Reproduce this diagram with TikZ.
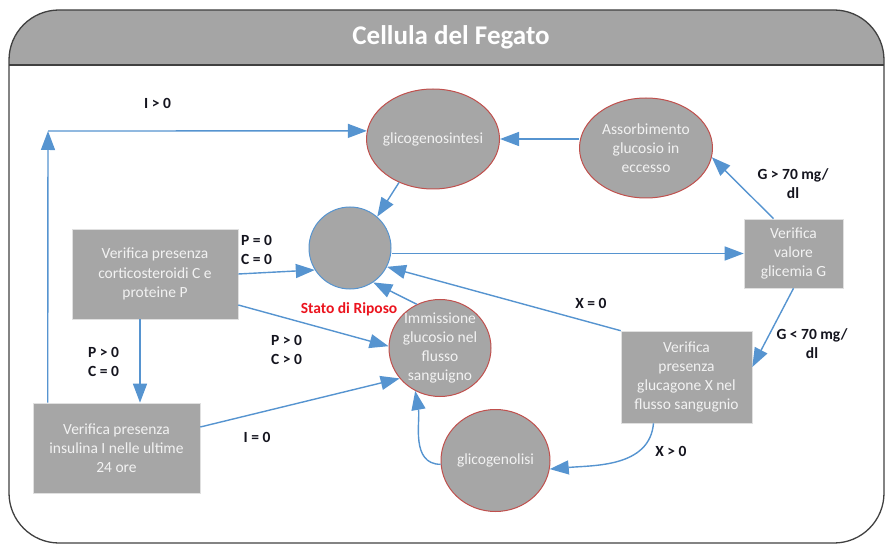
\documentclass[tikz,border=0pt]{standalone}
\usepackage{fontspec}
\setmainfont{Carlito}
\usetikzlibrary{arrows.meta,shapes.geometric}
\definecolor{boxgray}{RGB}{166,166,166}
\definecolor{headgray}{RGB}{165,165,165}
\definecolor{redb}{RGB}{192,80,77}
\definecolor{lineblue}{RGB}{86,148,208}
\definecolor{txt}{RGB}{242,242,242}
\definecolor{framec}{RGB}{64,64,64}
\definecolor{lbl}{RGB}{20,20,30}
\definecolor{redtxt}{RGB}{235,20,30}
\begin{document}
\begin{tikzpicture}[x=1pt,y=-1pt,
  box/.style={draw=black!12, line width=0.6pt, fill=boxgray, text=txt,
    font=\fontsize{15.5}{19.3}\selectfont, align=center, inner sep=0pt},
  blob/.style={ellipse, draw=redb, line width=1pt, fill=boxgray, inner sep=0pt},
  intext/.style={text=txt, font=\fontsize{15.5}{19.3}\selectfont, align=center, inner sep=0pt},
  lab/.style={text=lbl, font=\fontsize{15.5}{19}\selectfont\bfseries, inner sep=0pt},
  arr/.style={draw=lineblue, line width=1.4pt, -{Triangle[length=19pt,width=14pt]}}
]
\useasboundingbox (0,0) rectangle (886,545);
% frame
\begin{scope}
\clip[rounded corners=50pt] (9,10) rectangle (884,543);
\fill[headgray] (0,0) rectangle (886,65);
\end{scope}
\draw[framec, line width=1.3pt, rounded corners=50pt] (9,10) rectangle (884,543);
\draw[framec, line width=1.3pt] (9,65) -- (884,65);
\node[text=white, font=\fontsize{27}{30}\selectfont\bfseries] (T) at (451,37) {Cellula del Fegato};

% nodes
\node[box, minimum width=166pt, minimum height=90pt] (C) at (155,274) {Verifica presenza\\corticosteroidi C e\\proteine P};
\node[box, minimum width=167pt, minimum height=90pt] (N) at (116.5,448) {Verifica presenza\\insulina I nelle ultime\\24 ore};
\node[box, minimum width=99pt, minimum height=69pt] (V) at (793.5,253.5) {Verifica\\valore\\glicemia G};
\node[box, minimum width=131pt, minimum height=92pt] (X) at (686.5,377) {Verifica\\presenza\\glucagone X nel\\flusso sangugnio};

\node[blob, minimum width=133pt, minimum height=100pt, label={[intext]center:glicogenosintesi}] (G1) at (433,139) {};
\node[blob, minimum width=133pt, minimum height=100pt, label={[intext]center:{Assorbimento\\glucosio in\\eccesso}}] (A) at (646,148) {};
\node[blob, minimum width=102pt, minimum height=97pt, label={[intext]center:{Immissione\\glucosio nel\\flusso\\sanguigno}}] (I) at (440,348) {};
\node[blob, minimum width=109pt, minimum height=102pt, label={[intext]center:glicogenolisi}] (L) at (495.5,460.5) {};
\node[circle, draw=lineblue, fill=boxgray, line width=1pt, minimum size=82pt, inner sep=0pt] (S) at (350,248) {};
\node[text=redtxt, font=\fontsize{15.5}{19}\selectfont\bfseries, inner sep=0pt] (SL) at (349,309) {Stato di Riposo};

% connectors
\draw[arr] (G1.232) -- (S.49);
\draw[arr] (G1.east -| A.west) -- (G1.east);
\draw[arr] (V.west -| S.east) -- (V.west);
\draw[arr] ([xshift=-20pt]V.north) -- (A.-8);
\draw[arr] (V.south) -- ([yshift=10pt]X.east);
\draw[arr] (X.north west) -- (S.-27);
\draw[arr] ([xshift=-33pt]X.south) to[out=-95,in=5] (L.-9);
\draw[arr] (L.184) to[out=180,in=-80] (I.240);
\draw[arr] (I.118) -- (S.-56);
\draw[arr] (C.east) -- (S.212);
\draw[arr] ([yshift=-31pt]C.east) -- (I.178);
\draw[arr] ([xshift=-15pt]C.south) -- ([xshift=-15pt]C.south |- N.north);
\draw[arr] ([yshift=21pt]N.east) -- (I.217);
\coordinate (k) at (48,131);
\draw[arr] ([xshift=15pt]N.north west) -- (k);
\draw[arr] (k) -- (G1.173);

% labels
\node[lab] (l1) at (157.5,103) {I > 0};
\node[lab, anchor=west, align=left] (l2) at (241,249.5) {P = 0\\C = 0};
\node[lab, anchor=west, align=left] (l3) at (271,350) {P > 0\\C > 0};
\node[lab, anchor=west, align=left] (l4) at (88,362) {P > 0\\C = 0};
\node[lab] (l5) at (257,437) {I = 0};
\node[lab] (l6) at (591,303) {X = 0};
\node[lab] (l7) at (671,451) {X > 0};
\node[lab, align=center] (l8) at (793,184) {G > 70 mg/\\dl};
\node[lab, align=center] (l9) at (812,344) {G < 70 mg/\\dl};
\end{tikzpicture}
\end{document}
